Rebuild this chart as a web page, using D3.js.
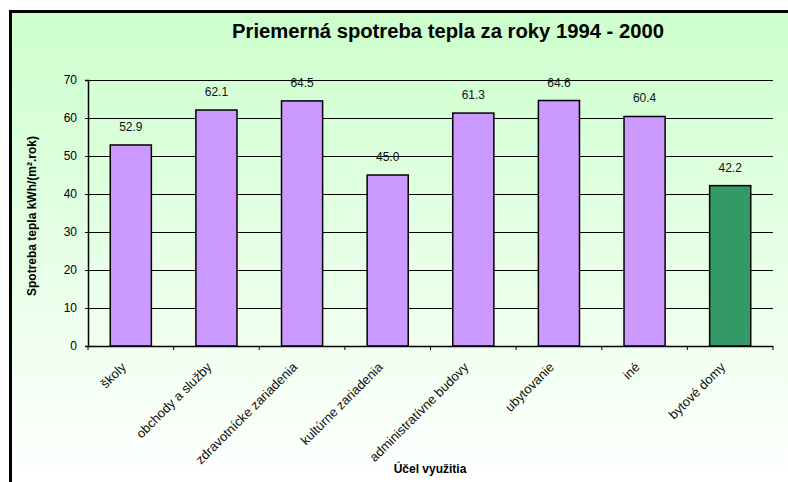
<!DOCTYPE html>
<html>
<head>
<meta charset="utf-8">
<script src="https://cdn.jsdelivr.net/npm/d3@7"></script>
<style>
  body { margin: 0; background: #fff; }
  text { font-family: "Liberation Sans", Arial, sans-serif; }
</style>
</head>
<body>
<div id="chart"></div>
<script>
// data
const categories = ["školy", "obchody a služby", "zdravotnícke zariadenia", "kultúrne zariadenia",
  "administratívne budovy", "ubytovanie", "iné", "bytové domy"];
const values = [52.9, 62.1, 64.5, 45.0, 61.3, 64.6, 60.4, 42.2];
const barColors = ["#CC99FF", "#CC99FF", "#CC99FF", "#CC99FF", "#CC99FF", "#CC99FF", "#CC99FF", "#339966"];
const yTicks = [0, 10, 20, 30, 40, 50, 60, 70];

const W = 788, H = 482;
const margin = { top: 80, right: 15, bottom: 136, left: 88 },
  width = W - margin.left - margin.right,
  height = H - margin.top - margin.bottom;

const svg = d3.select("#chart").append("svg")
  .attr("width", W).attr("height", H);

// background gradient of the chart area
const grad = svg.append("defs").append("linearGradient")
  .attr("id", "bg").attr("x1", 0).attr("y1", 0).attr("x2", 0).attr("y2", 1);
grad.append("stop").attr("offset", "0%").attr("stop-color", "#CCFFCC");
grad.append("stop").attr("offset", "100%").attr("stop-color", "#FFFFFF");

svg.append("rect").attr("x", 10).attr("y", 11).attr("width", W - 10).attr("height", H - 11)
  .attr("fill", "url(#bg)");
// frame, only top and left are inside the picture
svg.append("path").attr("d", `M10.5,${H} V11.5 H${W}`)
  .attr("fill", "none").attr("stroke", "#000").attr("stroke-width", 3);

// title
svg.append("text").attr("x", 448).attr("y", 38)
  .attr("text-anchor", "middle").attr("font-size", 20).attr("font-weight", "bold")
  .attr("textLength", 432).attr("lengthAdjust", "spacingAndGlyphs")
  .text("Priemerná spotreba tepla za roky 1994 - 2000");

const g = svg.append("g").attr("transform", `translate(${margin.left},${margin.top})`);

const y = d3.scaleLinear().domain([0, 70]).range([height, 0]);
const x = d3.scaleBand().domain(categories).range([0, width])
  .paddingInner(0.52).paddingOuter(0.26);
const step = x.step();

// gridlines
g.append("g").selectAll("line").data(yTicks.filter(d => d > 0)).join("line")
  .attr("x1", 0).attr("x2", width)
  .attr("y1", d => Math.round(y(d)) + 0.5).attr("y2", d => Math.round(y(d)) + 0.5)
  .attr("stroke", "#000").attr("stroke-width", 1);

// bars
g.append("g").selectAll("rect").data(values).join("rect")
  .attr("x", (d, i) => x(categories[i]))
  .attr("y", d => y(d))
  .attr("width", x.bandwidth())
  .attr("height", d => height - y(d))
  .attr("fill", (d, i) => barColors[i])
  .attr("stroke", "#000").attr("stroke-width", 1.5);

// value labels
g.append("g").selectAll("text").data(values).join("text")
  .attr("x", (d, i) => x(categories[i]) + x.bandwidth() / 2)
  .attr("y", d => y(d) - 14)
  .attr("text-anchor", "middle").attr("font-size", 12).attr("fill", "#111")
  .text(d => d.toFixed(1));

// Y axis
const yAxis = g.append("g")
  .call(d3.axisLeft(y).tickValues(yTicks).tickSize(3).tickPadding(8));
yAxis.select(".domain").attr("stroke-width", 1.5);
yAxis.selectAll("text").attr("font-size", 12).attr("font-family", "Liberation Sans, Arial, sans-serif");

// X axis line with ticks on the category boundaries
g.append("line").attr("x1", 0).attr("x2", width).attr("y1", height + 0.5).attr("y2", height + 0.5)
  .attr("stroke", "#000").attr("stroke-width", 1.5);
g.append("g").selectAll("line").data(d3.range(categories.length + 1)).join("line")
  .attr("x1", i => i * step).attr("x2", i => i * step)
  .attr("y1", height).attr("y2", height + 4)
  .attr("stroke", "#000");

// category labels, rotated
g.append("g").selectAll("text").data(categories).join("text")
  .attr("transform", d => `translate(${x(d) + x.bandwidth() / 2 - 4},${height + 22})rotate(-45)`)
  .attr("text-anchor", "end").attr("font-size", 13).attr("fill", "#111")
  .text(d => d);

// axis titles
svg.append("text")
  .attr("transform", `translate(36,216)rotate(-90)`)
  .attr("text-anchor", "middle").attr("font-size", 12).attr("font-weight", "bold")
  .text("Spotreba tepla kWh/(m².rok)");

svg.append("text").attr("x", 430).attr("y", 473)
  .attr("text-anchor", "middle").attr("font-size", 12).attr("font-weight", "bold")
  .text("Účel využitia");
</script>
</body>
</html>
